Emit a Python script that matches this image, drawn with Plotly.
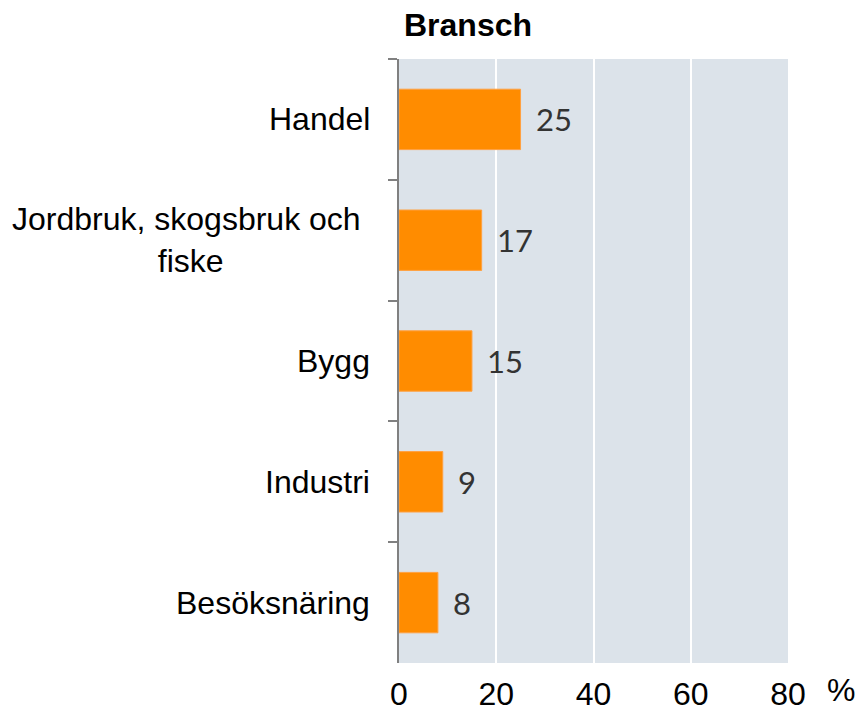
import plotly.graph_objects as go

categories = ["Handel", "Jordbruk, skogsbruk och ", "Bygg", "Industri", "Besöksnäring"]
label_text = ["Handel", "Jordbruk, skogsbruk och <br>fiske", "Bygg", "Industri", "Besöksnäring"]
values = [25, 17, 15, 9, 8]
x_ticks = [0, 20, 40, 60, 80]

AR = "Arial, Liberation Sans, sans-serif"

fig = go.Figure()
fig.add_trace(go.Bar(
    x=values, y=categories, orientation="h",
    marker=dict(color="#FF8C00", line=dict(color="#FFA040", width=1)),
    width=0.5, hoverinfo="x+y",
))

annotations = []
for c, v in zip(categories, values):
    annotations.append(dict(x=v, y=c, xref="x", yref="y", text=str(v), showarrow=False,
                            xanchor="left", xshift=13,
                            font=dict(family="Lato, sans-serif", size=31, color="#333333")))
for c, t in zip(categories, label_text):
    annotations.append(dict(x=0, y=c, xref="paper", yref="y", text=t, showarrow=False,
                            xanchor="right", align="center", xshift=-27,
                            font=dict(family=AR, size=32, color="#000000")))
annotations.append(dict(x=1, y=0, xref="paper", yref="paper", text="%", showarrow=False,
                        xanchor="left", yanchor="top", xshift=37, yshift=-7,
                        font=dict(family=AR, size=32, color="#000000")))
annotations.append(dict(x=0, y=1, xref="paper", yref="paper", text="<b>Bransch</b>", showarrow=False,
                        xanchor="left", yanchor="bottom", xshift=3, yshift=14,
                        font=dict(family=AR, size=32, color="#000000")))

fig.update_layout(
    width=858, height=712,
    margin=dict(l=399, r=70, t=59, b=49, autoexpand=False),
    plot_bgcolor="#DCE3EA", paper_bgcolor="#FFFFFF",
    showlegend=False,
    annotations=annotations,
    xaxis=dict(range=[0, 80], tickvals=x_ticks, showgrid=True, gridcolor="#FFFFFF", gridwidth=2,
               zeroline=False, showline=False, ticks="outside", ticklen=3, tickcolor="rgba(0,0,0,0)",
               tickfont=dict(family=AR, size=32, color="#000000"), automargin=False,
               fixedrange=True),
    yaxis=dict(autorange="reversed", showticklabels=False, tickson="boundaries", ticks="outside",
               ticklen=9, tickwidth=2, tickcolor="#808080", showline=True, linecolor="#808080",
               linewidth=2, showgrid=False, zeroline=False, fixedrange=True, automargin=False),
)

fig.write_html("out.html", config={"displayModeBar": False},
               post_script="document.body.style.margin='0';document.body.style.overflow='hidden';")
